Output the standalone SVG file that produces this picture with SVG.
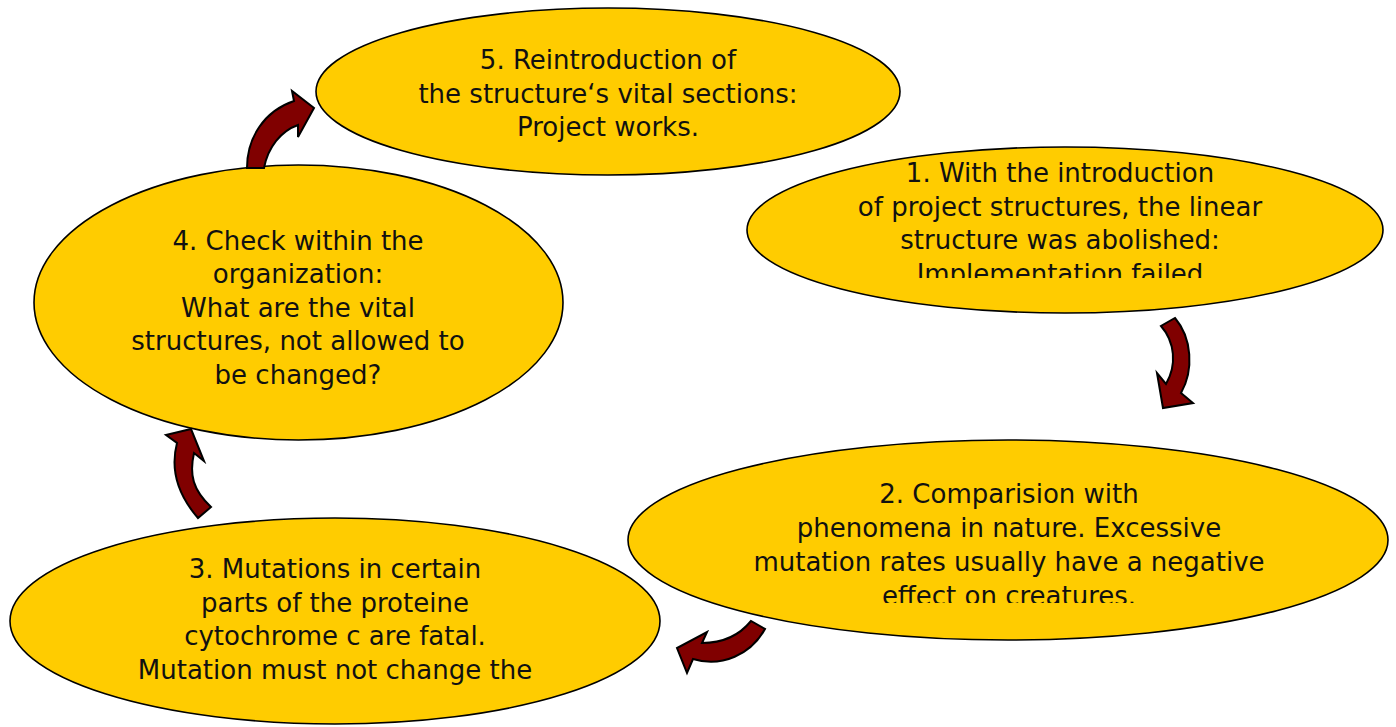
<svg xmlns="http://www.w3.org/2000/svg" width="1396" height="727" viewBox="0 0 1396 727">
  <style>
    .bubble { fill: #FFCC00; stroke: #000000; stroke-width: 1.6; }
    .label { font-family: "DejaVu Sans", "Liberation Sans", sans-serif; font-size: 26px; fill: #111111; text-anchor: middle; }
    .turn { fill: #800000; stroke: #000000; stroke-width: 2; stroke-linejoin: miter; }
  </style>
  <defs>
    <!-- text areas: lines below the box edge are cut off -->
    <clipPath id="clip-step1"><rect x="760" y="150" width="600" height="128"/></clipPath>
    <clipPath id="clip-step2"><rect x="640" y="445" width="740" height="158"/></clipPath>
  </defs>
  <rect width="1396" height="727" fill="#ffffff"/>

  <g id="step1">
    <ellipse class="bubble" cx="1065" cy="230" rx="318" ry="83"/>
    <g clip-path="url(#clip-step1)">
      <text class="label" x="1060" y="182">1. With the introduction</text>
      <text class="label" x="1060" y="216">of project structures, the linear</text>
      <text class="label" x="1060" y="249">structure was abolished:</text>
      <text class="label" x="1060" y="283">Implementation failed</text>
    </g>
  </g>

  <g id="step5">
    <ellipse class="bubble" cx="608" cy="91.5" rx="292" ry="83.5"/>
    <text class="label" x="608" y="69">5. Reintroduction of</text>
    <text class="label" x="608" y="103">the structure‘s vital sections:</text>
    <text class="label" x="608" y="136">Project works.</text>
  </g>

  <g id="step4">
    <ellipse class="bubble" cx="298.5" cy="302.5" rx="264.5" ry="137.5"/>
    <text class="label" x="298" y="250">4. Check within the</text>
    <text class="label" x="298" y="283">organization:</text>
    <text class="label" x="298" y="317">What are the vital</text>
    <text class="label" x="298" y="350">structures, not allowed to</text>
    <text class="label" x="298" y="384">be changed?</text>
  </g>

  <g id="step2">
    <ellipse class="bubble" cx="1008" cy="540" rx="380" ry="100"/>
    <g clip-path="url(#clip-step2)">
      <text class="label" x="1009" y="503">2. Comparision with</text>
      <text class="label" x="1009" y="537">phenomena in nature. Excessive</text>
      <text class="label" x="1009" y="571">mutation rates usually have a negative</text>
      <text class="label" x="1009" y="605">effect on creatures.</text>
    </g>
  </g>

  <g id="step3">
    <ellipse class="bubble" cx="335" cy="621" rx="325" ry="103"/>
    <text class="label" x="335" y="578">3. Mutations in certain</text>
    <text class="label" x="335" y="612">parts of the proteine</text>
    <text class="label" x="335" y="645">cytochrome c are fatal.</text>
    <text class="label" x="335" y="679">Mutation must not change the</text>
  </g>

  <!-- curved block arrows between the steps -->
  <g id="connectors">
    <path class="turn" d="M247,168 C247,138 264,111 294,101 L292,91 L314,108 L298,137 L298,125 C281,131 268,147 264,168 Z"/>
    <path class="turn" d="M1161,326 C1175,342 1177,365 1166,384 L1157,373 L1163,408 L1193,403 L1181,393 C1194,370 1192,338 1175,318 Z"/>
    <path class="turn" d="M751,621 C738,637 722,643 702,643 L707,632 L677,648 L687,673 L693,659 C722,668 751,654 765,629 Z"/>
    <path class="turn" d="M198,518 C178,495 170,470 177,443 L166,435 L191,429 L204,461 L194,453 C189,475 193,490 211,507 Z"/>
  </g>
</svg>
